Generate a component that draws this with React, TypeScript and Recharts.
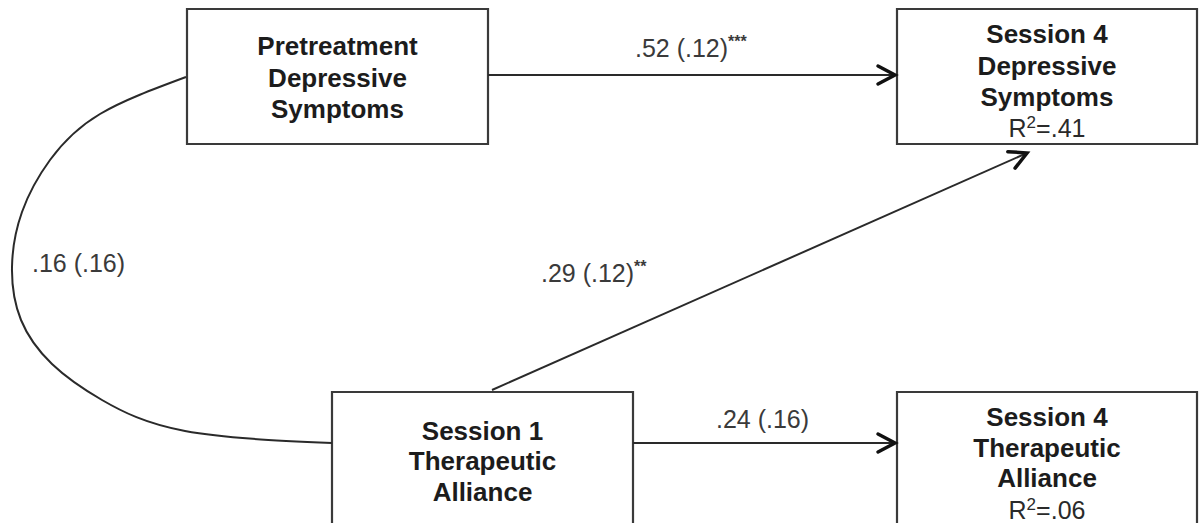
import React from "react";
import { ComposedChart, XAxis, YAxis, Line, Scatter, ReferenceArea } from "recharts";

const W = 1199;
const H = 523;

// ---- content (data) ----
const nodeTitles: string[][] = [
  ["Pretreatment", "Depressive", "Symptoms"],
  ["Session 4", "Depressive", "Symptoms"],
  ["Session 1", "Therapeutic", "Alliance"],
  ["Session 4", "Therapeutic", "Alliance"],
];
const nodeR2: string[] = ["", ".41", "", ".06"];

const pathCoef: string[] = [".52", ".29", ".24", ".16"];
const pathSE: string[] = [".12", ".12", ".16", ".16"];
const pathSig: string[] = ["***", "**", "", ""];

// ---- layout (diagram geometry in chart units) ----
const boxLayout = [
  { x1: 187, x2: 488, y1: 9, y2: 144, baselines: [55, 87, 118] },
  { x1: 897, x2: 1197, y1: 9, y2: 144, baselines: [43, 75, 106, 137] },
  { x1: 332, x2: 633, y1: 392, y2: 545, baselines: [440, 470, 501] },
  { x1: 897, x2: 1197, y1: 392, y2: 545, baselines: [426, 457, 487, 519] },
];

const arrowLayout: { x: number; y: number }[][] = [
  [{ x: 488, y: 75 }, { x: 895, y: 75 }],
  [{ x: 492, y: 390 }, { x: 1027, y: 153 }],
  [{ x: 633, y: 443 }, { x: 895, y: 443 }],
];

const curveLayout: { x: number; y: number }[] = [
  { x: 186, y: 77 },
  { x: 100, y: 114 },
  { x: 50, y: 160 },
  { x: 22, y: 212 },
  { x: 12, y: 267 },
  { x: 21, y: 320 },
  { x: 52, y: 364 },
  { x: 102, y: 400 },
  { x: 185, y: 431 },
  { x: 332, y: 443 },
];

const labelLayout = [
  { x: 635, y: 57 },
  { x: 541, y: 282 },
  { x: 716, y: 428 },
  { x: 32, y: 272 },
];

const FONT = "'Liberation Sans', Arial, Helvetica, sans-serif";

type TextItem = {
  x: number;
  y: number;
  kind: "title" | "r2" | "coef";
  text: string;
  sup?: string;
};

const textItems: TextItem[] = [];
nodeTitles.forEach((lines, i) => {
  const b = boxLayout[i];
  const cxv = (b.x1 + b.x2) / 2;
  lines.forEach((t, j) => {
    textItems.push({ x: cxv, y: b.baselines[j], kind: "title", text: t });
  });
  if (nodeR2[i]) {
    textItems.push({ x: cxv, y: b.baselines[lines.length], kind: "r2", text: nodeR2[i] });
  }
});
pathCoef.forEach((c, i) => {
  textItems.push({
    x: labelLayout[i].x,
    y: labelLayout[i].y,
    kind: "coef",
    text: `${c} (${pathSE[i]})`,
    sup: pathSig[i],
  });
});

const TextShape = (props: any) => {
  const { cx, cy, payload } = props;
  const p: TextItem = payload;
  if (p.kind === "title") {
    return (
      <text x={cx} y={cy} textAnchor="middle" fontFamily={FONT} fontWeight="bold" fontSize={26} fill="#1c1c1c">
        {p.text}
      </text>
    );
  }
  if (p.kind === "r2") {
    return (
      <text x={cx} y={cy} textAnchor="middle" fontFamily={FONT} fontSize={25} fill="#2a2a2a">
        R
        <tspan fontSize={17} dy={-9}>2</tspan>
        <tspan dy={9}>={p.text}</tspan>
      </text>
    );
  }
  return (
    <text x={cx} y={cy} textAnchor="start" fontFamily={FONT} fontSize={25} fill="#3a3a3a">
      {p.text}
      {p.sup ? (
        <tspan fontSize={16} dy={-10} fontWeight="bold">
          {p.sup}
        </tspan>
      ) : null}
    </text>
  );
};

const makeArrowDot = (pts: { x: number; y: number }[], key: string) => {
  const a = pts[0];
  const b = pts[pts.length - 1];
  const angle = (Math.atan2(b.y - a.y, b.x - a.x) * 180) / Math.PI;
  return (props: any) => {
    const { cx, cy, index } = props;
    if (index !== pts.length - 1 || cx == null) return <g key={`${key}-${index}`} />;
    return (
      <path
        key={`${key}-${index}`}
        d="M -17 -9 L 0 0 L -17 9"
        transform={`translate(${cx},${cy}) rotate(${angle})`}
        fill="none"
        stroke="#111"
        strokeWidth={3.5}
        strokeLinejoin="miter"
        strokeLinecap="round"
      />
    );
  };
};

export default function App() {
  return (
    <div style={{ position: "absolute", left: 0, top: 0, width: W, height: H, background: "#fff" }}>
      <ComposedChart width={W} height={H} margin={{ top: 0, right: 0, bottom: 0, left: 0 }}>
        <XAxis type="number" dataKey="x" domain={[0, W]} hide allowDataOverflow />
        <YAxis type="number" dataKey="y" domain={[0, H]} reversed hide allowDataOverflow width={0} />
        {boxLayout.map((b, i) => (
          <ReferenceArea
            key={`box-${i}`}
            x1={b.x1}
            x2={b.x2}
            y1={b.y1}
            y2={b.y2}
            ifOverflow="visible"
            fill="none"
            fillOpacity={0}
            stroke="#3a3a3a"
            strokeWidth={2.2}
          />
        ))}
        <Line
          data={curveLayout}
          dataKey="y"
          type="natural"
          stroke="#2a2a2a"
          strokeWidth={2}
          dot={false}
          activeDot={false}
          isAnimationActive={false}
        />
        {arrowLayout.map((pts, i) => (
          <Line
            key={`arrow-${i}`}
            data={pts}
            dataKey="y"
            type="linear"
            stroke="#2a2a2a"
            strokeWidth={2}
            dot={makeArrowDot(pts, `a${i}`)}
            activeDot={false}
            isAnimationActive={false}
          />
        ))}
        <Scatter data={textItems} dataKey="y" shape={TextShape} isAnimationActive={false} />
      </ComposedChart>
    </div>
  );
}
